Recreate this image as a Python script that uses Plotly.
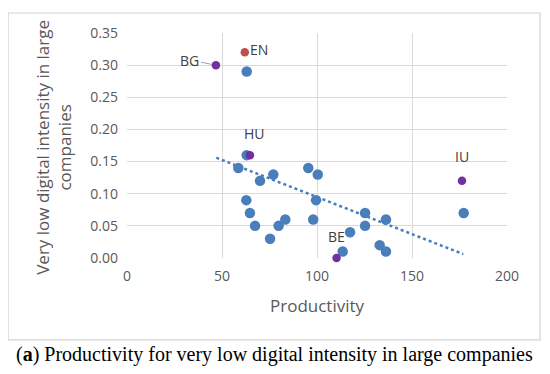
import plotly.graph_objects as go

# Blue series (other countries)
blue_x = [63, 63, 58.6, 70, 77, 95.4, 100.4, 62.8, 99.5, 64.7, 67.4, 75.3, 79.8, 83.3,
          98, 125.3, 125.3, 117.4, 113.5, 136.3, 133, 136.3, 177.2]
blue_y = [0.29, 0.16, 0.14, 0.12, 0.13, 0.14, 0.13, 0.09, 0.09, 0.07, 0.05, 0.03, 0.05, 0.06,
          0.06, 0.07, 0.05, 0.04, 0.01, 0.06, 0.02, 0.01, 0.07]
# Highlighted countries
purple_names = ["BG", "HU", "BE", "IU"]
purple_x = [46.8, 64.7, 110.3, 176.3]
purple_y = [0.30, 0.16, 0.00, 0.12]
red_names = ["EN"]
red_x = [62]
red_y = [0.32]
# Linear trendline endpoints
trend_x = [47, 177]
trend_y = [0.156, 0.006]

x_ticks = [0, 50, 100, 150, 200]
y_ticks = [0.00, 0.05, 0.10, 0.15, 0.20, 0.25, 0.30, 0.35]

BLUE = "#4a7ebb"
PURPLE = "#7030a0"
RED = "#c0504d"
GRID = "#d9d9d9"
TXT = "#595959"
FONT = "Open Sans"

fig = go.Figure()
fig.add_trace(go.Scatter(x=trend_x, y=trend_y, mode="lines",
                         line=dict(color=BLUE, width=2.5, dash="dot"), hoverinfo="skip"))
fig.add_trace(go.Scatter(x=blue_x, y=blue_y, mode="markers", cliponaxis=False,
                         marker=dict(color=BLUE, size=10.5, line=dict(width=0))))
fig.add_trace(go.Scatter(x=purple_x, y=purple_y, mode="markers", cliponaxis=False,
                         marker=dict(color=PURPLE, size=8.5, line=dict(width=0))))
fig.add_trace(go.Scatter(x=red_x, y=red_y, mode="markers", cliponaxis=False,
                         marker=dict(color=RED, size=8.5, line=dict(width=0))))

label_font = dict(family=FONT, size=14, color="#404040")
offsets = {"HU": (5, 22), "BE": (0, 22), "IU": (0, 24)}
for n, x, y in zip(purple_names, purple_x, purple_y):
    if n == "BG":
        fig.add_annotation(x=x, y=y, text=n, showarrow=True, arrowhead=0, arrowwidth=1,
                           arrowcolor="#a6a6a6", ax=-26, ay=-5, standoff=4, font=label_font)
    else:
        dx, dy = offsets[n]
        fig.add_annotation(x=x, y=y, text=n, showarrow=False, xshift=dx, yshift=dy,
                           font=label_font)
for n, x, y in zip(red_names, red_x, red_y):
    fig.add_annotation(x=x, y=y, text=n, showarrow=False, xshift=14, yshift=3,
                       font=label_font)

# Axis titles
fig.add_annotation(xref="paper", yref="paper", x=0.5, y=-0.209, xanchor="center",
                   yanchor="middle", text="Productivity",
                   showarrow=False, font=dict(family=FONT, size=17, color=TXT))
fig.add_annotation(xref="paper", yref="paper", x=-0.192, y=0.49, xanchor="center",
                   yanchor="middle",
                   text="Very low digital intensity in large<br>companies", textangle=-90,
                   showarrow=False, font=dict(family=FONT, size=17, color=TXT))
# Caption
fig.add_annotation(xref="paper", yref="paper", x=0.389, y=-0.431, xanchor="center",
                   yanchor="middle",
                   text="(<b>a</b>) Productivity for very low digital intensity in large companies",
                   showarrow=False, font=dict(family="Liberation Serif", size=20, color="#000000"))
# Frame
fig.add_shape(type="rect", xref="paper", yref="paper", x0=-0.313, x1=1.087, y0=-0.364, y1=1.089,
              line=dict(color="#d4d4d4", width=1.2))

# note: the page body has an 8px default margin, so margins are reduced by 8
fig.update_layout(
    width=550, height=374, showlegend=False,
    margin=dict(l=119, r=51, t=25, b=124, autoexpand=False),
    plot_bgcolor="white", paper_bgcolor="white",
    xaxis=dict(range=[0, 200], tickvals=x_ticks, ticktext=[str(v) for v in x_ticks],
               showgrid=True, gridcolor=GRID, gridwidth=1, zeroline=False, showline=False,
               ticks="", tickfont=dict(family=FONT, size=14, color=TXT), ticklabelstandoff=8),
    yaxis=dict(range=[0, 0.35], tickvals=y_ticks, ticktext=[f"{v:.2f}" for v in y_ticks],
               showgrid=True, gridcolor=GRID, gridwidth=1, zeroline=False, showline=False,
               ticks="", tickfont=dict(family=FONT, size=14, color=TXT), ticklabelstandoff=8),
)
fig.write_html("out.html")
